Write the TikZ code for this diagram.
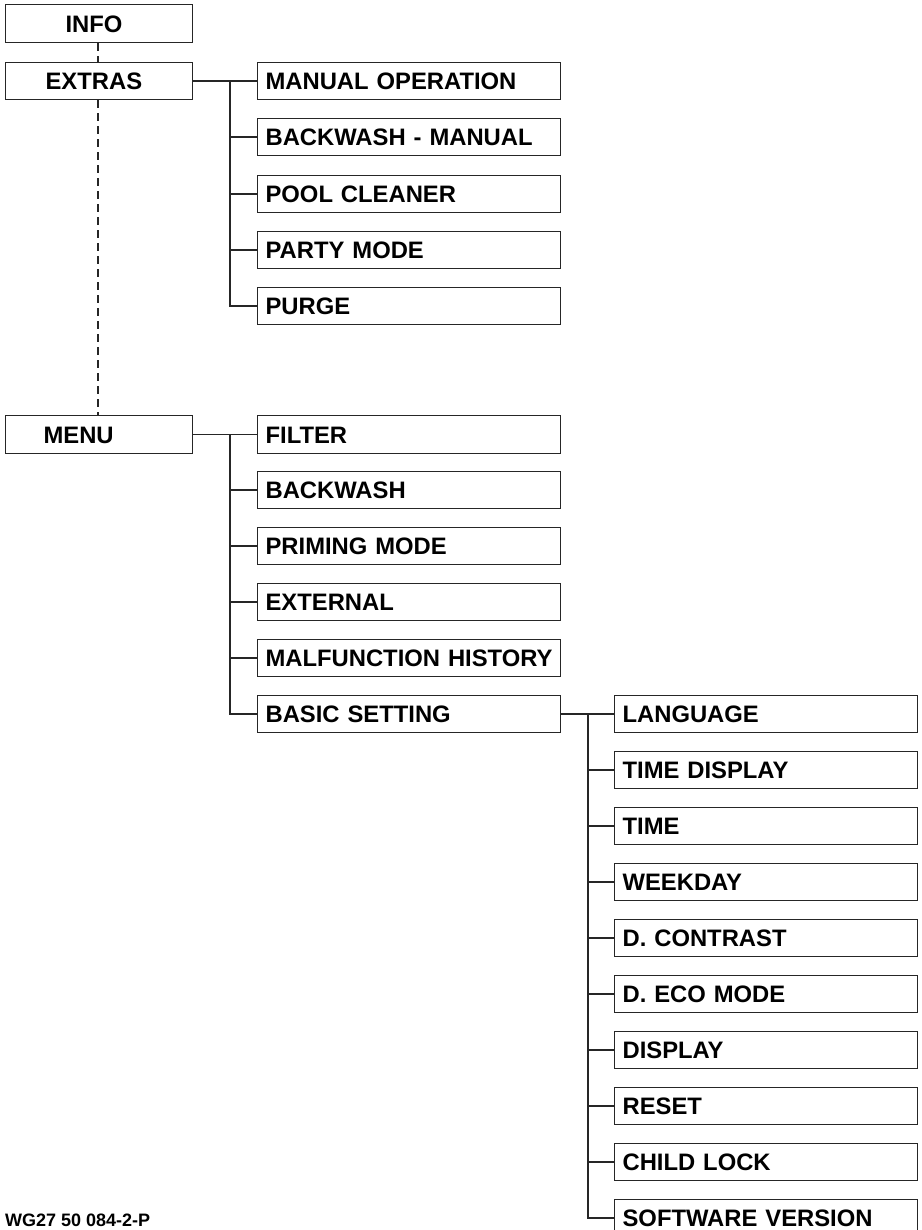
\documentclass[tikz,border=0pt]{standalone}
\usepackage{fontspec}
\setmainfont{Liberation Sans}
\begin{document}
\begin{tikzpicture}[x=1pt,y=-1pt,
  box/.style={draw=black!85, line width=1.2pt, anchor=north west,
    minimum height=37pt, inner xsep=8pt, inner ysep=0pt,
    text height=17pt, text depth=0pt, align=left,
    font=\fontsize{23.8}{26}\selectfont\bfseries},
  mainbox/.style={box, text width=171pt},
  subbox/.style={box, text width=287pt},
  link/.style={draw=black!85, line width=1.4pt},
  hint/.style={draw=black!85, line width=1.2pt, dash pattern=on 8pt off 5pt}]
\path[use as bounding box] (0,0) rectangle (921,1230);

% trunk positions of the three branch groups and the dashed spine
\coordinate (tA) at (230,0);
\coordinate (tB) at (588,0);
\coordinate (sp) at (98,0);

% main column
\node[mainbox, minimum height=38pt] (info)   at (5,4)   {\hspace*{52pt}INFO};
\node[mainbox]                      (extras) at (5,62)  {\hspace*{32pt}EXTRAS};
\node[mainbox, minimum height=38pt] (menu)   at (5,415) {\hspace*{30pt}MENU};

% EXTRAS entries
\node[subbox] (e1) at (257,62)  {MANUAL OPERATION};
\node[subbox] (e2) at (257,118) {BACKWASH - MANUAL};
\node[subbox] (e3) at (257,175) {POOL CLEANER};
\node[subbox] (e4) at (257,231) {PARTY MODE};
\node[subbox] (e5) at (257,287) {PURGE};

% MENU entries
\node[subbox, minimum height=38pt] (m1) at (257,415) {FILTER};
\node[subbox] (m2) at (257,471) {BACKWASH};
\node[subbox] (m3) at (257,527) {PRIMING MODE};
\node[subbox] (m4) at (257,583) {EXTERNAL};
\node[subbox] (m5) at (257,639) {MALFUNCTION HISTORY};
\node[subbox] (m6) at (257,695) {BASIC SETTING};

% BASIC SETTING entries
\node[subbox] (b1)  at (614,695)  {LANGUAGE};
\node[subbox] (b2)  at (614,751)  {TIME DISPLAY};
\node[subbox] (b3)  at (614,807)  {TIME};
\node[subbox] (b4)  at (614,863)  {WEEKDAY};
\node[subbox] (b5)  at (614,919)  {D. CONTRAST};
\node[subbox] (b6)  at (614,975)  {D. ECO MODE};
\node[subbox] (b7)  at (614,1031) {DISPLAY};
\node[subbox] (b8)  at (614,1087) {RESET};
\node[subbox] (b9)  at (614,1143) {CHILD LOCK};
\node[subbox] (b10) at (614,1199) {SOFTWARE VERSION};

% dashed spine between the main entries
\draw[hint] (info.south -| sp) -- (extras.north -| sp);
\draw[hint] (extras.south -| sp) -- (menu.north -| sp);

% EXTRAS branches
\draw[link] (extras.east) -- (e1.west);
\foreach \c in {e2,e3,e4,e5} \draw[link] (e1.west -| tA) |- (\c.west);

% MENU branches
\draw[link] (menu.east) -- (m1.west);
\foreach \c in {m2,m3,m4,m5,m6} \draw[link] (m1.west -| tA) |- (\c.west);

% BASIC SETTING branches
\draw[link] (m6.east) -- (b1.west);
\foreach \c in {b2,b3,b4,b5,b6,b7,b8,b9,b10} \draw[link] (b1.west -| tB) |- (\c.west);

% drawing number
\node[anchor=base west, inner sep=0pt, font=\fontsize{18}{20}\selectfont\bfseries] (ref) at (5,1226) {WG27 50 084-2-P};
\end{tikzpicture}
\end{document}
